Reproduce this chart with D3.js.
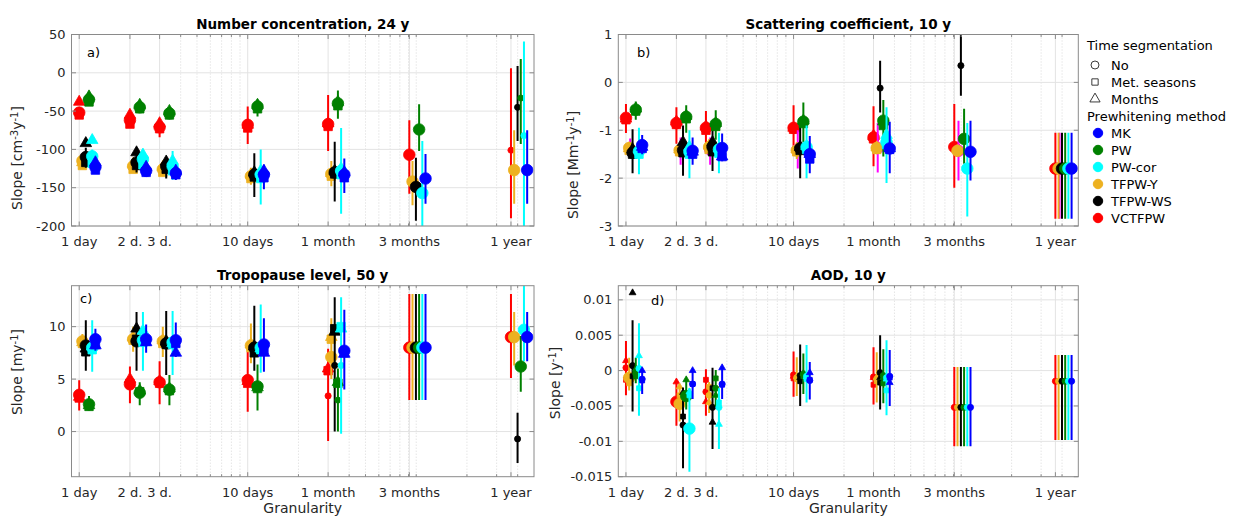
<!DOCTYPE html>
<html>
<head>
<meta charset="utf-8">
<script src="https://cdn.jsdelivr.net/npm/d3@7"></script>
<style>
  body { margin: 0; background: #fff; }
  text { font-family: "DejaVu Sans", sans-serif; fill: #262626; }
</style>
</head>
<body>
<svg id="chart" width="1235" height="516"></svg>
<script>
// granularity groups (days) and their tick labels
const granDays = [1, 2, 3, 10, 30, 91, 365];
const granLabels = ['1 day', '2 d.', '3 d.', '10 days', '1 month', '3 months', '1 year'];

// prewhitening methods (index 6 is the magenta series that has no legend entry)
const methodNames = ['VCTFPW', 'TFPW-Y', 'TFPW-WS', 'PW', 'PW-cor', 'MK', ''];
const methodColors = ['#ff0000', '#edb120', '#000000', '#008000', '#00ffff', '#0000ff', '#ff00ff'];
const drawOrder = [0, 6, 1, 2, 3, 4, 5];
const legendOrder = [5, 3, 4, 1, 2, 0];

// time segmentation
const segNames = ['No', 'Met. seasons', 'Months'];
const segSymbols = [d3.symbolCircle, d3.symbolSquare, d3.symbolTriangle];

// rows: [granularity index, method, slope No, slope Met. seasons, slope Months, ci low, ci high, significant flags]
const dataA = [
  [0, 0, -52, -55, -38, -58, -46, [1, 1, 1]],
  [0, 1, -115, -121, -117, -123, -108, [1, 1, 1]],
  [0, 2, -110, -117, -92, -124, -98, [1, 1, 1]],
  [0, 3, -35, -38, -31, -40, -28, [1, 1, 1]],
  [0, 4, -109, -118, -88, -118, -100, [1, 1, 1]],
  [0, 5, -123, -127, -117, -130, -116, [1, 1, 1]],
  [1, 0, -62, -67, -55, -70, -54, [1, 1, 1]],
  [1, 1, -122, -126, -119, -130, -115, [1, 1, 1]],
  [1, 2, -117, -121, -104, -130, -105, [1, 1, 1]],
  [1, 3, -45, -47, -42, -50, -40, [1, 1, 1]],
  [1, 4, -113, -120, -107, -125, -100, [1, 1, 1]],
  [1, 5, -128, -130, -123, -134, -120, [1, 1, 1]],
  [2, 0, -71, -73, -66, -84, -60, [1, 1, 1]],
  [2, 1, -126, -130, -123, -135, -118, [1, 1, 1]],
  [2, 2, -122, -126, -116, -138, -110, [1, 1, 1]],
  [2, 3, -53, -55, -50, -58, -48, [1, 1, 1]],
  [2, 4, -122, -128, -115, -140, -102, [1, 1, 1]],
  [2, 5, -131, -133, -128, -140, -124, [1, 1, 1]],
  [3, 0, -68, -72, -68, -93, -44, [1, 1, 1]],
  [3, 1, -135, -138, -133, -146, -124, [1, 1, 1]],
  [3, 2, -133, -136, -130, -162, -105, [1, 1, 1]],
  [3, 3, -44, -47, -42, -57, -35, [1, 1, 1]],
  [3, 4, -133, -138, -128, -172, -100, [1, 1, 1]],
  [3, 5, -133, -137, -128, -152, -120, [1, 1, 1]],
  [4, 0, -67, -70, -66, -102, -29, [1, 1, 1]],
  [4, 1, -132, -135, -131, -148, -115, [1, 1, 1]],
  [4, 2, -130, -132, -128, -168, -90, [1, 1, 1]],
  [4, 3, -40, -43, -38, -60, -23, [1, 1, 1]],
  [4, 4, -128, -133, -125, -184, -72, [1, 1, 1]],
  [4, 5, -133, -137, -130, -157, -112, [1, 1, 1]],
  [5, 0, -107, null, null, -158, -62, [1, 0, 0]],
  [5, 1, -142, null, null, -173, -115, [1, 0, 0]],
  [5, 2, -149, null, null, -193, -111, [1, 0, 0]],
  [5, 3, -74, null, null, -102, -41, [1, 0, 0]],
  [5, 4, -157, null, null, -215, -89, [1, 0, 0]],
  [5, 5, -138, null, null, -171, -106, [1, 0, 0]],
  [6, 0, -101, null, null, -190, 6, [0, 0, 0]],
  [6, 1, -127, null, null, -171, -75, [1, 0, 0]],
  [6, 2, -45, null, null, -89, 9, [0, 0, 0]],
  [6, 3, -33, null, null, -93, 18, [0, 0, 0]],
  [6, 4, -82, null, null, -215, 41, [0, 0, 0]],
  [6, 5, -127, null, null, -171, -75, [1, 0, 0]]
];

const dataB = [
  [0, 0, -0.74, -0.78, -0.76, -1.06, -0.45, [1, 1, 1]],
  [0, 6, -1.40, null, null, -1.52, -1.17, [1, 0, 0]],
  [0, 1, -1.37, -1.42, -1.38, -1.50, -1.25, [1, 1, 1]],
  [0, 2, -1.47, -1.50, -1.40, -1.90, -0.98, [1, 1, 1]],
  [0, 3, -0.57, -0.60, -0.55, -0.78, -0.40, [1, 1, 1]],
  [0, 4, -1.44, -1.50, -1.40, -1.92, -0.95, [1, 1, 1]],
  [0, 5, -1.31, -1.38, -1.35, -1.50, -1.10, [1, 1, 1]],
  [1, 0, -0.85, -0.88, -0.82, -1.28, -0.52, [1, 1, 1]],
  [1, 6, -1.42, null, null, -1.72, -1.15, [1, 0, 0]],
  [1, 1, -1.42, -1.45, -1.40, -1.55, -1.30, [1, 1, 1]],
  [1, 2, -1.42, -1.47, -1.25, -1.95, -0.90, [1, 1, 1]],
  [1, 3, -0.72, -0.76, -0.70, -1.05, -0.48, [1, 1, 1]],
  [1, 4, -1.45, -1.50, -1.35, -2.00, -1.00, [1, 1, 1]],
  [1, 5, -1.43, -1.50, -1.45, -1.72, -1.15, [1, 1, 1]],
  [2, 0, -0.95, -1.00, -0.92, -1.30, -0.60, [1, 1, 1]],
  [2, 6, -1.40, null, null, -1.72, -1.15, [1, 0, 0]],
  [2, 1, -1.35, -1.40, -1.32, -1.50, -1.20, [1, 1, 1]],
  [2, 2, -1.35, -1.45, -1.25, -1.85, -0.95, [1, 1, 1]],
  [2, 3, -0.87, -0.92, -0.85, -1.20, -0.58, [1, 1, 1]],
  [2, 4, -1.40, -1.48, -1.38, -1.90, -1.05, [1, 1, 1]],
  [2, 5, -1.37, -1.55, -1.55, -1.65, -1.07, [1, 1, 1]],
  [3, 0, -0.95, -0.98, -0.95, -1.35, -0.48, [1, 1, 1]],
  [3, 6, -1.40, null, null, -1.80, -1.00, [1, 0, 0]],
  [3, 1, -1.42, -1.45, -1.40, -1.60, -1.25, [1, 1, 1]],
  [3, 2, -1.38, -1.42, -1.35, -2.00, -0.93, [1, 1, 1]],
  [3, 3, -0.82, -0.86, -0.80, -1.25, -0.42, [1, 1, 1]],
  [3, 4, -1.35, -1.40, -1.33, -2.00, -0.90, [1, 1, 1]],
  [3, 5, -1.50, -1.60, -1.50, -1.90, -1.12, [1, 1, 1]],
  [4, 0, -1.15, -1.18, -1.12, -1.75, -0.50, [1, 1, 1]],
  [4, 6, -1.37, null, null, -1.88, -0.85, [1, 0, 0]],
  [4, 1, -1.37, -1.40, -1.36, -1.50, -1.25, [1, 1, 1]],
  [4, 2, -0.12, null, null, -0.63, 0.45, [0, 0, 0]],
  [4, 3, -0.80, -0.90, -0.82, -1.55, -0.37, [1, 1, 1]],
  [4, 4, -1.25, -1.30, -1.10, -2.10, -0.52, [1, 1, 1]],
  [4, 5, -1.38, -1.40, -1.38, -1.90, -0.82, [1, 1, 1]],
  [5, 0, -1.35, null, null, -2.20, -0.45, [1, 0, 0]],
  [5, 6, -1.43, null, null, -2.05, -0.80, [1, 0, 0]],
  [5, 1, -1.43, null, null, -1.55, -1.30, [1, 0, 0]],
  [5, 2, 0.35, null, null, -0.28, 1.00, [0, 0, 0]],
  [5, 3, -1.18, null, null, -1.70, -0.55, [1, 0, 0]],
  [5, 4, -1.80, null, null, -2.80, -0.85, [1, 0, 0]],
  [5, 5, -1.45, null, null, -2.05, -0.80, [1, 0, 0]],
  [6, 0, -1.80, null, null, -2.85, -1.05, [1, 0, 0]],
  [6, 6, -1.80, null, null, -2.85, -1.05, [1, 0, 0]],
  [6, 1, -1.80, null, null, -2.85, -1.05, [1, 0, 0]],
  [6, 2, -1.80, null, null, -2.85, -1.05, [1, 0, 0]],
  [6, 3, -1.80, null, null, -2.85, -1.05, [1, 0, 0]],
  [6, 4, -1.80, null, null, -2.85, -1.05, [1, 0, 0]],
  [6, 5, -1.80, null, null, -2.85, -1.05, [1, 0, 0]]
];

const dataC = [
  [0, 0, 3.5, 3.2, 3.3, 2.0, 4.9, [1, 1, 1]],
  [0, 1, 8.6, 8.4, 8.5, 7.8, 9.3, [1, 1, 1]],
  [0, 2, 8.2, 7.6, 7.9, 5.8, 10.6, [1, 1, 1]],
  [0, 3, 2.6, 2.4, 2.5, 2.0, 3.4, [1, 1, 1]],
  [0, 4, 8.0, 7.8, 8.1, 5.7, 10.6, [1, 1, 1]],
  [0, 5, 8.8, 8.3, 8.2, 7.7, 9.8, [1, 1, 1]],
  [1, 0, 4.5, 4.6, 5.0, 2.7, 6.2, [1, 1, 1]],
  [1, 1, 8.8, 8.7, 9.0, 7.6, 10.0, [1, 1, 1]],
  [1, 2, 8.6, 8.8, 9.8, 5.8, 11.4, [1, 1, 1]],
  [1, 3, 3.7, 3.8, 3.9, 2.5, 4.7, [1, 1, 1]],
  [1, 4, 8.7, 8.5, 9.6, 5.8, 11.4, [1, 1, 1]],
  [1, 5, 8.8, 8.6, 8.5, 7.5, 10.2, [1, 1, 1]],
  [2, 0, 4.7, 4.6, 4.8, 2.6, 6.7, [1, 1, 1]],
  [2, 1, 8.6, 8.4, 8.7, 7.1, 10.0, [1, 1, 1]],
  [2, 2, 8.4, 8.3, 8.6, 5.4, 11.5, [1, 1, 1]],
  [2, 3, 4.0, 3.9, 4.1, 2.5, 5.4, [1, 1, 1]],
  [2, 4, 8.5, 8.3, 8.4, 5.4, 11.5, [1, 1, 1]],
  [2, 5, 8.7, 8.4, 7.5, 7.1, 10.4, [1, 1, 1]],
  [3, 0, 4.9, 4.6, 4.8, 1.9, 7.6, [1, 1, 1]],
  [3, 1, 8.2, 8.0, 8.3, 6.5, 10.3, [1, 1, 1]],
  [3, 2, 8.0, 7.5, 8.1, 5.8, 12.0, [1, 1, 1]],
  [3, 3, 4.3, 4.1, 4.2, 2.0, 6.4, [1, 1, 1]],
  [3, 4, 8.0, 7.8, 7.9, 5.6, 12.1, [1, 1, 1]],
  [3, 5, 8.3, 7.8, 7.5, 5.7, 10.8, [1, 1, 1]],
  [4, 0, 3.4, 5.8, 6.0, -0.9, 7.9, [0, 1, 1]],
  [4, 1, 7.1, 8.8, 9.0, 5.0, 10.8, [1, 1, 1]],
  [4, 2, 6.3, 9.8, 9.5, 0.0, 12.8, [0, 1, 1]],
  [4, 3, 3.0, 4.6, 4.7, 0.0, 6.0, [0, 1, 1]],
  [4, 4, 6.3, 10.0, 9.8, -0.2, 12.8, [0, 1, 1]],
  [4, 5, 7.7, 7.5, 7.4, 4.0, 11.6, [1, 1, 1]],
  [5, 0, 8.0, null, null, 3.0, 13.1, [1, 0, 0]],
  [5, 1, 8.0, null, null, 3.0, 13.1, [1, 0, 0]],
  [5, 2, 8.0, null, null, 3.0, 13.1, [1, 0, 0]],
  [5, 3, 8.0, null, null, 3.0, 13.1, [1, 0, 0]],
  [5, 4, 8.0, null, null, 3.0, 13.1, [1, 0, 0]],
  [5, 5, 8.0, null, null, 3.0, 13.1, [1, 0, 0]],
  [6, 0, 9.0, null, null, 5.1, 13.1, [1, 0, 0]],
  [6, 1, 9.0, null, null, 6.3, 11.4, [1, 0, 0]],
  [6, 2, -0.7, null, null, -3.0, 1.8, [0, 0, 0]],
  [6, 3, 6.2, null, null, 3.8, 9.1, [1, 0, 0]],
  [6, 4, 9.7, null, null, 6.7, 14.5, [1, 0, 0]],
  [6, 5, 9.0, null, null, 6.7, 11.4, [1, 0, 0]]
];

const dataD = [
  [0, 0, 0.0004, -0.0013, 0.0014, -0.0035, 0.0042, [0, 0, 0]],
  [0, 1, -0.0010, -0.0018, -0.0008, -0.0028, 0.0018, [1, 0, 0]],
  [0, 2, 0.0007, -0.0008, 0.0110, -0.0058, 0.0071, [0, 0, 0]],
  [0, 3, -0.0004, -0.0008, 0.0002, -0.0018, 0.0018, [0, 0, 0]],
  [0, 4, 0.0003, -0.0025, 0.0021, -0.0064, 0.0067, [0, 0, 0]],
  [0, 5, -0.0012, -0.0014, 0.0000, -0.0033, 0.0001, [0, 0, 0]],
  [1, 0, -0.0044, -0.0044, -0.0016, -0.0078, -0.0016, [1, 0, 0]],
  [1, 1, -0.0047, -0.0035, -0.0023, -0.0072, -0.0022, [1, 0, 0]],
  [1, 2, -0.0077, -0.0065, -0.0031, -0.0138, -0.0024, [0, 0, 0]],
  [1, 3, -0.0036, -0.0038, -0.0013, -0.0055, -0.0012, [1, 0, 0]],
  [1, 4, -0.0082, -0.0035, -0.0030, -0.0143, -0.0025, [1, 0, 0]],
  [1, 5, -0.0019, -0.0019, 0.0000, -0.0040, 0.0001, [0, 0, 0]],
  [2, 0, -0.0030, -0.0013, -0.0044, -0.0064, 0.0002, [0, 0, 0]],
  [2, 1, -0.0035, -0.0023, -0.0045, -0.0060, -0.0016, [0, 0, 0]],
  [2, 2, -0.0052, -0.0025, -0.0073, -0.0111, 0.0004, [0, 0, 0]],
  [2, 3, -0.0025, -0.0011, -0.0035, -0.0050, 0.0001, [0, 0, 0]],
  [2, 4, -0.0052, -0.0045, -0.0076, -0.0111, -0.0025, [0, 0, 0]],
  [2, 5, -0.0019, -0.0020, 0.0004, -0.0040, 0.0004, [0, 0, 0]],
  [3, 0, -0.0006, -0.0011, -0.0008, -0.0037, 0.0027, [0, 0, 0]],
  [3, 1, -0.0010, -0.0012, -0.0009, -0.0036, 0.0019, [0, 0, 0]],
  [3, 2, -0.0007, -0.0015, -0.0010, -0.0050, 0.0037, [0, 0, 0]],
  [3, 3, -0.0005, -0.0008, -0.0004, -0.0033, 0.0024, [0, 0, 0]],
  [3, 4, -0.0008, -0.0012, -0.0009, -0.0045, 0.0036, [0, 0, 0]],
  [3, 5, -0.0014, -0.0013, -0.0003, -0.0041, 0.0012, [0, 0, 0]],
  [4, 0, -0.0009, -0.0020, -0.0010, -0.0048, 0.0033, [0, 0, 0]],
  [4, 1, -0.0012, -0.0015, -0.0010, -0.0045, 0.0026, [0, 0, 0]],
  [4, 2, -0.0003, -0.0017, -0.0010, -0.0055, 0.0050, [0, 0, 0]],
  [4, 3, -0.0007, -0.0018, -0.0010, -0.0046, 0.0030, [0, 0, 0]],
  [4, 4, -0.0010, -0.0028, -0.0012, -0.0063, 0.0043, [0, 0, 0]],
  [4, 5, -0.0008, -0.0010, -0.0017, -0.0050, 0.0029, [0, 0, 0]],
  [5, 0, -0.0052, null, null, -0.0107, 0.0005, [0, 0, 0]],
  [5, 1, -0.0052, null, null, -0.0107, 0.0005, [0, 0, 0]],
  [5, 2, -0.0052, null, null, -0.0107, 0.0005, [0, 0, 0]],
  [5, 3, -0.0052, null, null, -0.0107, 0.0005, [0, 0, 0]],
  [5, 4, -0.0052, null, null, -0.0107, 0.0005, [0, 0, 0]],
  [5, 5, -0.0052, null, null, -0.0107, 0.0005, [0, 0, 0]],
  [6, 0, -0.0015, null, null, -0.0098, 0.0022, [0, 0, 0]],
  [6, 1, -0.0015, null, null, -0.0098, 0.0022, [0, 0, 0]],
  [6, 2, -0.0015, null, null, -0.0098, 0.0022, [0, 0, 0]],
  [6, 3, -0.0015, null, null, -0.0098, 0.0022, [0, 0, 0]],
  [6, 4, -0.0015, null, null, -0.0098, 0.0022, [0, 0, 0]],
  [6, 5, -0.0015, null, null, -0.0098, 0.0022, [0, 0, 0]]
];

const xDomain = [0.9, 500];

const panels = [
  { title: 'Number concentration, 24 y', tag: 'a)', unit: [['Slope [cm', 0], ['-3', 1], ['y', 0], ['-1', 1], [']', 0]],
    yDomain: [-200, 50], yTicks: [-200, -150, -100, -50, 0, 50], data: dataA,
    box: [71.5, 534, 34.5, 226], tagPos: [87, 57], ylab: [22, 158], xlabel: false },
  { title: 'Scattering coefficient, 10 y', tag: 'b)', unit: [['Slope [Mm', 0], ['-1', 1], ['y', 0], ['-1', 1], [']', 0]],
    yDomain: [-3, 1], yTicks: [-3, -2, -1, 0, 1], data: dataB,
    box: [618.3, 1078.3, 34.5, 226], tagPos: [637, 57], ylab: [578, 165], xlabel: false },
  { title: 'Tropopause level, 50 y', tag: 'c)', unit: [['Slope [my', 0], ['-1', 1], [']', 0]],
    yDomain: [-4.3, 13.9], yTicks: [0, 5, 10], data: dataC,
    box: [71.5, 534, 285.7, 476.7], tagPos: [80, 303], ylab: [22, 372], xlabel: true },
  { title: 'AOD, 10 y', tag: 'd)', unit: [['Slope [y', 0], ['-1', 1], [']', 0]],
    yDomain: [-0.015, 0.012], yTicks: [-0.015, -0.01, -0.005, 0, 0.005, 0.01], data: dataD,
    box: [618.3, 1078.3, 285.7, 476.7], tagPos: [651, 305], ylab: [560, 383], xlabel: true }
];

const methodOffset = [0, 3.2, 6.6, 9.8, 13, 16.2, 4.2]; // px to the right of each group tick

const svg = d3.select('#chart');

function markerSize(seg, big) {
  if (seg === 0) return big ? 105 : 30;
  if (seg === 1) return big ? 72 : 24;
  return big ? 58 : 20;
}

function drawPanel(p, idx) {
  const [x0, x1, y0, y1] = p.box;
  const x = d3.scaleLog().domain(xDomain).range([x0, x1]);
  const y = d3.scaleLinear().domain(p.yDomain).range([y1, y0]);
  const g = svg.append('g');

  g.append('clipPath').attr('id', 'clip' + idx)
    .append('rect').attr('x', x0).attr('y', y0).attr('width', x1 - x0).attr('height', y1 - y0);

  // minor log grid (dotted)
  const minor = [];
  for (let e = -1; e <= 2; e++) {
    for (let k = 1; k <= 9; k++) {
      const v = k * Math.pow(10, e);
      if (v > xDomain[0] && v < xDomain[1] && !granDays.includes(v)) minor.push(v);
    }
  }
  g.selectAll('.mgrid').data(minor).join('line')
    .attr('x1', d => x(d)).attr('x2', d => x(d))
    .attr('y1', y0).attr('y2', y1)
    .attr('stroke', '#cfcfcf').attr('stroke-width', 0.8).attr('stroke-dasharray', '1,2');

  // major grid
  g.selectAll('.xgrid').data(granDays).join('line')
    .attr('x1', d => x(d)).attr('x2', d => x(d))
    .attr('y1', y0).attr('y2', y1)
    .attr('stroke', '#e3e3e3').attr('stroke-width', 1);
  g.selectAll('.ygrid').data(p.yTicks).join('line')
    .attr('x1', x0).attr('x2', x1)
    .attr('y1', d => y(d)).attr('y2', d => y(d))
    .attr('stroke', '#e3e3e3').attr('stroke-width', 1);

  // data
  const plot = g.append('g').attr('clip-path', `url(#clip${idx})`);
  drawOrder.forEach(m => {
    const rows = p.data.filter(r => r[1] === m);
    rows.forEach(r => {
      const cx = x(granDays[r[0]]) + methodOffset[m];
      plot.append('line')
        .attr('x1', cx).attr('x2', cx)
        .attr('y1', y(r[5])).attr('y2', y(r[6]))
        .attr('stroke', methodColors[m]).attr('stroke-width', 2);
      [0, 1, 2].forEach(s => {
        const v = r[2 + s];
        if (v === null) return;
        plot.append('path')
          .attr('d', d3.symbol().type(segSymbols[s]).size(markerSize(s, r[7][s]))())
          .attr('transform', `translate(${cx},${y(v)})`)
          .attr('fill', methodColors[m])
          .attr('stroke', methodColors[m]).attr('stroke-width', 0.8);
      });
    });
  });

  // box + ticks
  g.append('rect').attr('x', x0).attr('y', y0).attr('width', x1 - x0).attr('height', y1 - y0)
    .attr('fill', 'none').attr('stroke', '#8a8a8a').attr('stroke-width', 1);
  const tl = 4.5;
  granDays.forEach(d => {
    g.append('line').attr('x1', x(d)).attr('x2', x(d)).attr('y1', y1).attr('y2', y1 - tl).attr('stroke', '#8a8a8a');
    g.append('line').attr('x1', x(d)).attr('x2', x(d)).attr('y1', y0).attr('y2', y0 + tl).attr('stroke', '#8a8a8a');
  });
  minor.forEach(d => {
    g.append('line').attr('x1', x(d)).attr('x2', x(d)).attr('y1', y1).attr('y2', y1 - 2.5).attr('stroke', '#8a8a8a');
    g.append('line').attr('x1', x(d)).attr('x2', x(d)).attr('y1', y0).attr('y2', y0 + 2.5).attr('stroke', '#8a8a8a');
  });
  p.yTicks.forEach(d => {
    g.append('line').attr('x1', x0).attr('x2', x0 + tl).attr('y1', y(d)).attr('y2', y(d)).attr('stroke', '#8a8a8a');
    g.append('line').attr('x1', x1).attr('x2', x1 - tl).attr('y1', y(d)).attr('y2', y(d)).attr('stroke', '#8a8a8a');
  });

  // tick labels
  g.selectAll('.xl').data(granDays).join('text')
    .attr('x', d => x(d)).attr('y', y1 + 20)
    .attr('text-anchor', 'middle').attr('font-size', 13)
    .text((d, i) => granLabels[i]);
  g.selectAll('.yl').data(p.yTicks).join('text')
    .attr('x', x0 - 6).attr('y', d => y(d) + 4.5)
    .attr('text-anchor', 'end').attr('font-size', 13)
    .text(d => String(d));

  // title, tag
  g.append('text').attr('x', (x0 + x1) / 2).attr('y', y0 - 6)
    .attr('text-anchor', 'middle').attr('font-size', 13.5).attr('font-weight', 'bold')
    .style('fill', '#000').text(p.title);
  g.append('text').attr('x', p.tagPos[0]).attr('y', p.tagPos[1])
    .attr('font-size', 13).style('fill', '#000').text(p.tag);

  // y label
  const yl = g.append('text')
    .attr('transform', `translate(${p.ylab[0]},${p.ylab[1]}) rotate(-90)`)
    .attr('text-anchor', 'middle').attr('font-size', 14);
  p.unit.forEach(([t, sup]) => {
    yl.append('tspan').attr('font-size', sup ? 10 : 14)
      .attr('baseline-shift', sup ? '40%' : null).text(t);
  });

  if (p.xlabel) {
    g.append('text').attr('x', (x0 + x1) / 2).attr('y', y1 + 36)
      .attr('text-anchor', 'middle').attr('font-size', 14).text('Granularity');
  }
}

panels.forEach(drawPanel);

// legend
const lg = svg.append('g');
const lx = 1087;
lg.append('text').attr('x', lx).attr('y', 50).attr('font-size', 13).style('fill', '#000').text('Time segmentation');
segNames.forEach((n, i) => {
  const yy = 65 + i * 17;
  lg.append('path')
    .attr('d', d3.symbol().type(segSymbols[i]).size(i === 0 ? 50 : (i === 1 ? 40 : 45))())
    .attr('transform', `translate(1095,${yy})`)
    .attr('fill', 'none').attr('stroke', '#262626').attr('stroke-width', 0.9);
  lg.append('text').attr('x', 1111).attr('y', yy + 4.5).attr('font-size', 13).style('fill', '#000').text(n);
});
lg.append('text').attr('x', lx).attr('y', 121).attr('font-size', 13).style('fill', '#000').text('Prewhitening method');
legendOrder.forEach((m, i) => {
  const yy = 133 + i * 17;
  lg.append('path')
    .attr('d', d3.symbol().type(d3.symbolCircle).size(70)())
    .attr('transform', `translate(1098,${yy})`)
    .attr('fill', methodColors[m]).attr('stroke', methodColors[m]);
  lg.append('text').attr('x', 1111).attr('y', yy + 4.5).attr('font-size', 13).style('fill', '#000').text(methodNames[m]);
});
</script>
</body>
</html>
